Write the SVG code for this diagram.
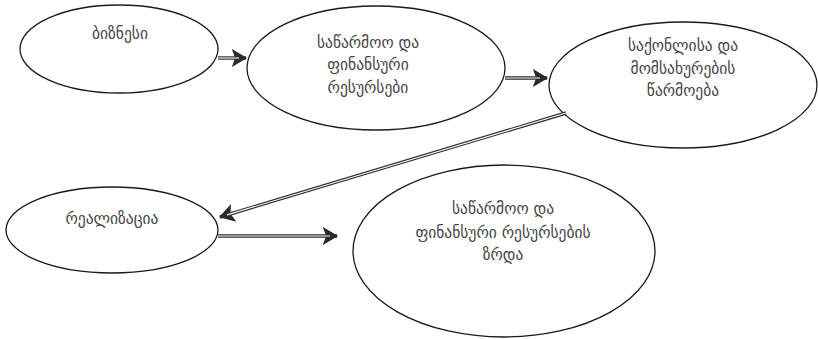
<svg xmlns="http://www.w3.org/2000/svg" width="818" height="339" viewBox="0 0 818 339">
  <style>
    .node ellipse { fill: #ffffff; stroke: #1a1a1a; stroke-width: 1.3; }
    .node text { font-family: "DejaVu Sans", "Noto Sans", sans-serif; font-size: 15.5px; fill: #444444; text-anchor: middle; }
    .edge-outer { fill: none; stroke: #2a2a2a; stroke-width: 3.4; }
    .edge-inner { fill: none; stroke: #ffffff; stroke-width: 1.1; }
  </style>
  <defs>
    <marker id="head" markerWidth="6" markerHeight="6" refX="4.2" refY="3" orient="auto" markerUnits="strokeWidth">
      <path d="M0,0.3 L4.5,3 L0,5.7 L1,3 Z" fill="#2a2a2a"/>
    </marker>
  </defs>
  <rect width="818" height="339" fill="#ffffff"/>

  <g id="node-business" class="node">
    <ellipse cx="119" cy="49" rx="99" ry="44"/>
    <text x="120" y="39">ბიზნესი</text>
  </g>

  <g id="node-resources" class="node">
    <ellipse cx="376" cy="68" rx="129" ry="62"/>
    <text x="368" y="48">საწარმოო და</text>
    <text x="368" y="70">ფინანსური</text>
    <text x="368" y="93">რესურსები</text>
  </g>

  <g id="node-production" class="node">
    <ellipse cx="683" cy="85" rx="134" ry="63"/>
    <text x="683" y="51">საქონლისა და</text>
    <text x="683" y="74">მომსახურების</text>
    <text x="683" y="96">წარმოება</text>
  </g>

  <g id="node-realization" class="node">
    <ellipse cx="112" cy="230" rx="106" ry="43"/>
    <text x="112" y="224">რეალიზაცია</text>
  </g>

  <g id="node-growth" class="node">
    <ellipse cx="504" cy="251" rx="151" ry="86"/>
    <text x="503" y="214">საწარმოო და</text>
    <text x="503" y="238">ფინანსური რესურსების</text>
    <text x="503" y="260">ზრდა</text>
  </g>

  <g id="connectors">
    <path class="edge-outer" d="M218,58 L246,58" marker-end="url(#head)"/>
    <path class="edge-inner" d="M218,58 L239,58"/>
    <path class="edge-outer" d="M505,78 L547,78" marker-end="url(#head)"/>
    <path class="edge-inner" d="M505,78 L540,78"/>
    <path class="edge-outer" d="M566,113 L220,217" marker-end="url(#head)"/>
    <path class="edge-inner" d="M566,113 L227,214.9"/>
    <path class="edge-outer" d="M218,236 L337,236" marker-end="url(#head)"/>
    <path class="edge-inner" d="M218,236 L330,236"/>
  </g>
</svg>
